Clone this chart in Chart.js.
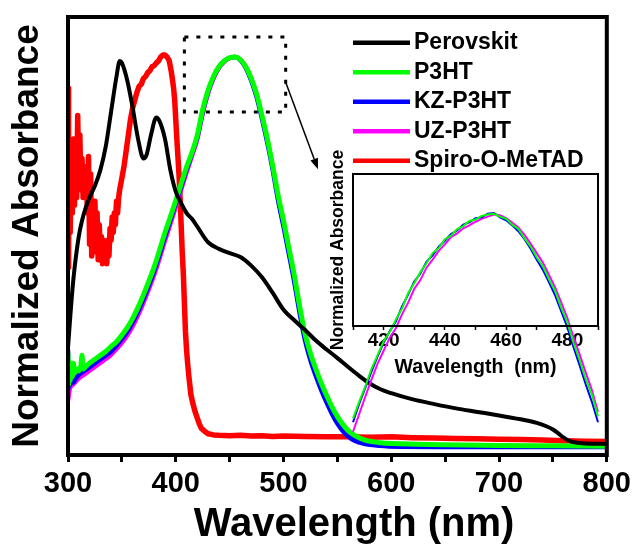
<!DOCTYPE html>
<html><head><meta charset="utf-8">
<script src="https://cdn.jsdelivr.net/npm/chart.js@4.4.0/dist/chart.umd.min.js"></script>
<style>
html,body{margin:0;padding:0;background:#fff;}
#wrap{position:relative;width:638px;height:550px;overflow:hidden;}
#main{position:absolute;left:0;top:0;}
#inset{position:absolute;left:320px;top:140px;}
</style></head><body>
<div id="wrap"><canvas id="main" width="638" height="550"></canvas><canvas id="inset" width="300" height="300"></canvas></div>
<script>
// ---------- data ----------
const seriesLabels = ['Perovskit', 'P3HT', 'KZ-P3HT', 'UZ-P3HT', 'Spiro-O-MeTAD'];
const mainTicks = [300, 400, 500, 600, 700, 800];
const insetTicks = [420, 440, 460, 480];

const perovskitWl = [300,302,305,310,313,316,320,325,330,335,340,345,348,350,355,360,365,370,373,377,382,385,390,395,400,405,410,415,420,430,440,450,460,470,480,490,500,510,520,530,540,550,560,570,580,590,600,620,640,660,680,700,720,735,745,750,755,760,765,770,780,800];
const perovskitAbs = [0.254,0.33,0.43,0.54,0.58,0.61,0.64,0.67,0.71,0.77,0.86,0.95,0.99,0.985,0.94,0.87,0.79,0.74,0.75,0.80,0.845,0.835,0.79,0.71,0.655,0.625,0.60,0.585,0.565,0.525,0.508,0.497,0.487,0.465,0.435,0.395,0.352,0.325,0.30,0.273,0.25,0.228,0.205,0.183,0.163,0.148,0.138,0.122,0.110,0.099,0.090,0.081,0.071,0.062,0.052,0.045,0.035,0.024,0.016,0.012,0.009,0.008];

const p3htWl = [300,300.5,301,302,303,304,305,306,308,310,312,313,314,316,320,325,330,335,340,345,350,355,360,365,370,375,380,385,390,395,400,405,410,415,420,425,430,435,440,445,450,455,460,465,470,475,480,485,490,495,500,505,510,515,520,525,530,535,540,545,550,555,560,566,575,590,600,650,700,750,800];
const p3htAbs = [0.24,0.16,0.22,0.17,0.20,0.18,0.215,0.19,0.20,0.195,0.21,0.235,0.20,0.205,0.215,0.225,0.235,0.245,0.258,0.27,0.287,0.306,0.33,0.358,0.39,0.425,0.462,0.505,0.55,0.59,0.632,0.675,0.718,0.755,0.80,0.865,0.915,0.95,0.975,0.99,0.998,1.0,0.993,0.975,0.945,0.905,0.85,0.79,0.72,0.645,0.58,0.51,0.44,0.36,0.29,0.24,0.20,0.164,0.132,0.103,0.078,0.058,0.042,0.03,0.018,0.011,0.009,0.006,0.004,0.003,0.002];

const kzWl = [300,300.5,301,302,303,305,307,310,315,320,325,330,335,340,345,350,355,360,365,370,375,380,385,390,395,400,405,410,415,420,425,430,435,440,445,450,455,460,465,470,475,480,485,490,495,500,505,510,515,520,525,530,535,540,545,550,555,560,566,575,590,600,650,700,750,800];
const kzAbs = [0.25,0.15,0.20,0.16,0.18,0.165,0.175,0.185,0.195,0.205,0.215,0.225,0.235,0.245,0.26,0.277,0.296,0.32,0.348,0.38,0.415,0.452,0.495,0.54,0.582,0.625,0.668,0.712,0.752,0.795,0.86,0.912,0.948,0.974,0.99,0.998,1.0,0.992,0.972,0.94,0.898,0.842,0.78,0.71,0.632,0.565,0.495,0.423,0.343,0.273,0.222,0.182,0.146,0.114,0.085,0.06,0.041,0.027,0.016,0.008,0.003,0.001,0.0,0.0,0.0,0.0];

const uzWl = [300,302,305,310,315,320,325,330,335,340,345,350,355,360,365,370,375,380,385,390,395,400,405,410,415,420,425,430,435,440,445,450,455,460,465,470,475,480,485,490,495,500,505,510,515,520,525,530,535,540,545,550,555,560,566,575,590,600,650,700,800];
const uzAbs = [0.115,0.15,0.16,0.175,0.185,0.195,0.205,0.215,0.225,0.236,0.25,0.266,0.285,0.308,0.336,0.368,0.403,0.44,0.482,0.527,0.57,0.614,0.658,0.702,0.744,0.787,0.852,0.905,0.943,0.97,0.987,0.997,1.0,0.994,0.976,0.946,0.905,0.85,0.789,0.72,0.643,0.576,0.506,0.434,0.353,0.282,0.23,0.188,0.15,0.117,0.087,0.062,0.043,0.029,0.018,0.01,0.004,0.002,0.001,0.0,0.0];

const spiroWl = [300,300.5,301,302,303,304,305,306,307,308,309,310,311,312,313,314,315,316,317,318,319,320,321,322,323,324,325,326,327,328,329,330,331,332,333,334,335,336,337,338,339,340,341,342,343,344,345,346,347,348,350,352,354,356,358,360,362,364,366,368,370,372,374,376,378,380,382,384,386,388,390,392,394,396,397,398,399,400,401,402,403,404,405,406,407,408,409,410,411,412,413,414,416,418,420,422,424,427,430,435,440,450,460,470,480,490,500,520,540,560,580,600,620,640,660,680,700,720,740,760,780,800];
const spiroAbs = [0.92,0.46,0.78,0.55,0.72,0.60,0.79,0.62,0.74,0.64,0.85,0.68,0.80,0.66,0.74,0.64,0.72,0.66,0.70,0.60,0.745,0.52,0.70,0.49,0.62,0.55,0.63,0.50,0.60,0.48,0.57,0.50,0.54,0.47,0.53,0.48,0.52,0.47,0.53,0.49,0.56,0.53,0.59,0.55,0.60,0.57,0.63,0.60,0.64,0.66,0.69,0.72,0.76,0.80,0.84,0.87,0.89,0.91,0.925,0.93,0.945,0.95,0.96,0.965,0.975,0.978,0.985,0.99,1.0,1.005,1.005,1.0,0.99,0.96,0.94,0.92,0.89,0.84,0.79,0.745,0.70,0.64,0.57,0.50,0.446,0.37,0.295,0.25,0.215,0.185,0.16,0.135,0.11,0.09,0.074,0.058,0.047,0.04,0.034,0.031,0.030,0.029,0.030,0.028,0.029,0.027,0.028,0.027,0.026,0.026,0.025,0.026,0.024,0.023,0.022,0.021,0.020,0.019,0.018,0.016,0.015,0.014];

const insetWl = [410,412,414,416,418,420,422,424,426,428,430,432,434,436,438,440,442,444,446,448,450,452,454,456,458,460,462,464,466,468,470,472,474,476,478,480,482,484,486,488,490];
const insetP3ht = [0.718,0.741,0.762,0.786,0.805,0.824,0.837,0.854,0.869,0.890,0.904,0.919,0.931,0.945,0.952,0.964,0.969,0.978,0.982,0.989,0.991,0.996,0.998,0.999,0.995,0.992,0.984,0.978,0.965,0.954,0.939,0.927,0.909,0.893,0.870,0.850,0.822,0.798,0.772,0.751,0.721];
const insetKz = [0.713,0.738,0.760,0.782,0.803,0.822,0.838,0.851,0.872,0.888,0.906,0.917,0.933,0.942,0.954,0.962,0.971,0.976,0.984,0.987,0.993,0.994,0.999,1.0,0.994,0.990,0.983,0.975,0.964,0.951,0.936,0.922,0.905,0.887,0.865,0.843,0.816,0.791,0.765,0.741,0.713];
const insetUz = [0.700,0.724,0.748,0.771,0.793,0.811,0.829,0.842,0.861,0.877,0.896,0.908,0.925,0.936,0.948,0.957,0.967,0.972,0.979,0.983,0.988,0.992,0.995,0.998,0.997,0.993,0.987,0.980,0.970,0.958,0.945,0.932,0.915,0.898,0.877,0.856,0.830,0.806,0.781,0.757,0.727];

// zoom-region annotation (data units)
const zoomBoxWl = [408, 502];
const zoomBoxAbs = [0.859, 1.051];
const arrowFrom = [502, 0.935];
const arrowTo = [532, 0.712];

// ---------- helpers ----------
const FONT = '"Liberation Sans", Arial, Helvetica, sans-serif';
const pts = (xs, ys) => xs.map((x, i) => ({x: x, y: ys[i]}));

const framePlugin = {
  id: 'frame',
  afterDatasetsDraw(chart, args, opts) {
    const {left, top, right, bottom} = chart.chartArea;
    const ctx = chart.ctx;
    ctx.save();
    ctx.strokeStyle = '#000';
    ctx.lineWidth = opts.width;
    ctx.strokeRect(left, top, right - left, bottom - top);
    ctx.restore();
  }
};

const legendPlugin = {
  id: 'insideLegend',
  afterDraw(chart, args, opts) {
    const ctx = chart.ctx;
    ctx.save();
    ctx.font = opts.font;
    ctx.textBaseline = 'middle';
    ctx.textAlign = 'left';
    ctx.fillStyle = '#000';
    chart.data.datasets.forEach((ds, i) => {
      const y = opts.y + i * opts.dy;
      ctx.strokeStyle = ds.borderColor;
      ctx.lineWidth = opts.lineWidth;
      ctx.beginPath();
      ctx.moveTo(opts.x, y);
      ctx.lineTo(opts.x + opts.len, y);
      ctx.stroke();
      ctx.fillText(ds.label, opts.x + opts.len + opts.gap, y);
    });
    ctx.restore();
  }
};

const zoomBoxPlugin = {
  id: 'zoomBox',
  afterDraw(chart, args, opts) {
    const xs = chart.scales.x, ys = chart.scales.y, ctx = chart.ctx;
    const x0 = xs.getPixelForValue(zoomBoxWl[0]), x1 = xs.getPixelForValue(zoomBoxWl[1]);
    const y0 = ys.getPixelForValue(zoomBoxAbs[1]), y1 = ys.getPixelForValue(zoomBoxAbs[0]);
    ctx.save();
    ctx.strokeStyle = '#000';
    ctx.lineWidth = 3;
    ctx.setLineDash([4, 8]);
    ctx.strokeRect(x0, y0, x1 - x0, y1 - y0);
    ctx.setLineDash([]);
    const ax0 = xs.getPixelForValue(arrowFrom[0]), ay0 = ys.getPixelForValue(arrowFrom[1]);
    const ax1 = xs.getPixelForValue(arrowTo[0]), ay1 = ys.getPixelForValue(arrowTo[1]);
    const ang = Math.atan2(ay1 - ay0, ax1 - ax0);
    const hl = 11, hw = 4;
    const bx = ax1 - hl * Math.cos(ang), by = ay1 - hl * Math.sin(ang);
    ctx.lineWidth = 1.5;
    ctx.beginPath(); ctx.moveTo(ax0, ay0); ctx.lineTo(bx, by); ctx.stroke();
    ctx.fillStyle = '#000';
    ctx.beginPath();
    ctx.moveTo(ax1, ay1);
    ctx.lineTo(bx + hw * Math.sin(ang), by - hw * Math.cos(ang));
    ctx.lineTo(bx - hw * Math.sin(ang), by + hw * Math.cos(ang));
    ctx.closePath(); ctx.fill();
    ctx.restore();
  }
};

// ---------- main chart ----------
const mainColors = ['#000000', '#00ff00', '#0000ff', '#ff00ff', '#ff0000'];
const mainWidths = [4, 5, 4.5, 4, 5.5];
const mainSeries = [pts(perovskitWl, perovskitAbs), pts(p3htWl, p3htAbs), pts(kzWl, kzAbs), pts(uzWl, uzAbs), pts(spiroWl, spiroAbs)];

new Chart(document.getElementById('main'), {
  type: 'line',
  data: {
    datasets: seriesLabels.map((lab, i) => ({
      label: lab,
      data: mainSeries[i],
      borderColor: mainColors[i],
      backgroundColor: mainColors[i],
      borderWidth: mainWidths[i],
      pointRadius: 0,
      fill: false,
      tension: 0,
      cubicInterpolationMode: i === 4 ? 'default' : 'monotone',
      borderJoinStyle: 'round'
    }))
  },
  options: {
    responsive: false,
    animation: false,
    events: [],
    layout: {padding: {left: 9.5, right: 27, top: 17, bottom: 5}},
    plugins: {
      legend: {display: false},
      tooltip: {enabled: false},
      frame: {width: 4},
      insideLegend: {x: 353, y: 42.7, dy: 29.5, len: 57, gap: 4, lineWidth: 4.5, font: 'bold 23px ' + FONT}
    },
    scales: {
      x: {
        type: 'linear', min: 300, max: 800,
        afterFit: (s) => { s.height = 90; },
        grid: {display: true, drawOnChartArea: false, drawTicks: true, tickLength: 7, tickWidth: 3, tickColor: '#000'},
        border: {display: false},
        ticks: {
          stepSize: 50, autoSkip: false, maxRotation: 0, padding: 7, color: '#000',
          font: {family: FONT, size: 29, weight: 'bold', lineHeight: 1},
          callback: (v) => mainTicks.includes(v) ? String(v) : ''
        },
        title: {display: true, text: '   Wavelength (nm)', color: '#000', padding: 0,
          font: {family: FONT, size: 40, weight: 'bold', lineHeight: 1}}
      },
      y: {
        type: 'linear', min: -0.0205, max: 1.1026,
        afterFit: (s) => { s.width = 58.5; },
        grid: {display: false},
        border: {display: false},
        ticks: {display: false},
        title: {display: true, text: 'Normalized Absorbance', color: '#000', padding: 0,
          font: {family: FONT, size: 37, weight: 'bold', lineHeight: 1}}
      }
    }
  },
  plugins: [framePlugin, legendPlugin, zoomBoxPlugin]
});

// ---------- inset chart ----------
const insetColors = ['#00ff00', '#0000ff', '#ff00ff'];
const insetSeries = [pts(insetWl, insetP3ht), pts(insetWl, insetKz), pts(insetWl, insetUz)];

new Chart(document.getElementById('inset'), {
  type: 'line',
  data: {
    datasets: seriesLabels.slice(1, 4).map((lab, i) => ({
      label: lab,
      data: insetSeries[i],
      borderColor: insetColors[i],
      borderWidth: 2,
      pointRadius: 0,
      fill: false,
      tension: 0,
      clip: false
    }))
  },
  options: {
    responsive: false,
    animation: false,
    events: [],
    layout: {padding: {left: 9, right: 22, top: 34, bottom: 63}},
    plugins: {
      legend: {display: false},
      tooltip: {enabled: false},
      frame: {width: 2}
    },
    scales: {
      x: {
        type: 'linear', min: 410, max: 490,
        afterFit: (s) => { s.height = 51; },
        grid: {display: true, drawOnChartArea: false, drawTicks: true, tickLength: 4, tickWidth: 1.5, tickColor: '#000'},
        border: {display: false},
        ticks: {
          stepSize: 10, autoSkip: false, maxRotation: 0, padding: 1, color: '#000',
          font: {family: FONT, size: 19, weight: 'bold', lineHeight: 1},
          callback: (v) => insetTicks.includes(v) ? String(v) : ''
        },
        title: {display: true, text: 'Wavelength  (nm)', color: '#000', padding: 0,
          font: {family: FONT, size: 19.5, weight: 'bold', lineHeight: 1}}
      },
      y: {
        type: 'linear', min: 0.845, max: 1.0535,
        afterFit: (s) => { s.width = 24; },
        grid: {display: false},
        border: {display: false},
        ticks: {display: false},
        title: {display: true, text: 'Normalized Absorbance', color: '#000', padding: 0,
          font: {family: FONT, size: 17.5, weight: 'bold', lineHeight: 1}}
      }
    }
  },
  plugins: [framePlugin]
});
</script>
</body></html>
